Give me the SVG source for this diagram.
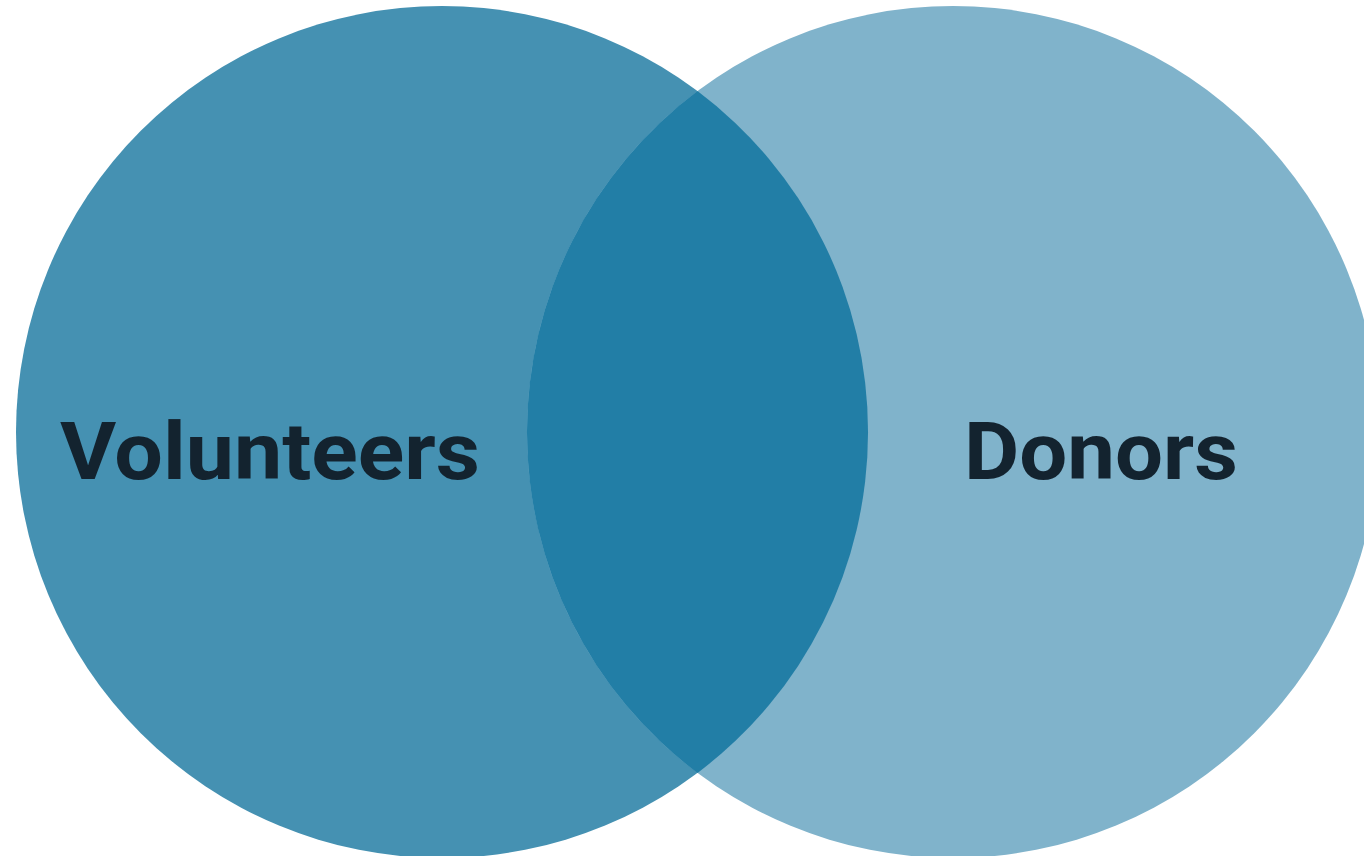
<svg xmlns="http://www.w3.org/2000/svg" width="1364" height="856" viewBox="0 0 1364 856">
  <style>
    .label { font-family: Roboto, "Open Sans", "Liberation Sans", sans-serif; font-weight: 700; font-size: 80px; fill: #13232f; }
  </style>
  <rect width="1364" height="856" fill="#ffffff"/>
  <g id="volunteers">
    <circle cx="442" cy="432" r="426" fill="#4591b2"/>
  </g>
  <g id="donors">
    <circle cx="953" cy="432" r="426" fill="#80b3cb"/>
  </g>
  <g id="overlap">
    <path d="M 697.5 91.1 A 426 426 0 0 1 697.5 772.9 A 426 426 0 0 1 697.5 91.1 Z" fill="#227ea6"/>
  </g>
  <g id="labels">
    <text class="label" x="60" y="479" textLength="420" lengthAdjust="spacingAndGlyphs">Volunteers</text>
    <text class="label" x="964" y="479" textLength="274" lengthAdjust="spacingAndGlyphs">Donors</text>
  </g>
</svg>
